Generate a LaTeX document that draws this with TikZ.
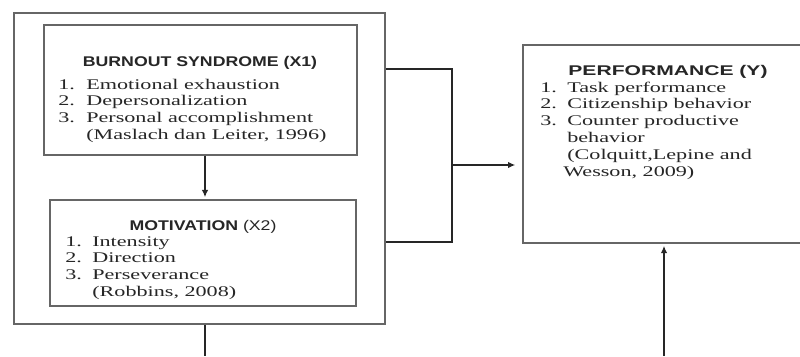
\documentclass[tikz,border=0pt]{standalone}
\usepackage{fontspec}
\usepackage{xcolor}
\usepackage{tikz}
\usetikzlibrary{arrows.meta,positioning}
\newfontfamily\itemfont[FakeStretch=1.5]{Liberation Serif}
\newfontfamily\headfont[FakeStretch=1.26]{Liberation Sans}
\newfontfamily\headwide[FakeStretch=1.5]{Liberation Sans}

\begin{document}
\begin{tikzpicture}[
  x=0.025cm, y=-0.025cm,
  every node/.style={text=black!85},
  box/.style={draw=black!60, line width=1pt, fill=white, inner sep=0pt},
  head/.style={anchor=base, inner sep=0pt, font=\headfont\fontsize{10}{12}\selectfont},
  items/.style={anchor=base west, inner sep=0pt, align=left,
                font=\itemfont\fontsize{10.5}{12.05}\selectfont},
  line/.style={draw=black!85, line width=0.9pt},
  arrow/.style={line, -{Latex[length=1.8mm,width=1.6mm]}},
]
\useasboundingbox (0,0) rectangle (800,356);
\clip (0,0) rectangle (800,356);
% boxes
\node[box, minimum width=9.275cm, minimum height=7.775cm] (outer) at (199.5,168.5) {};
\node[box, minimum width=7.825cm, minimum height=3.25cm] (burn) at (200.5,90) {};
\node[box, minimum width=7.65cm, minimum height=2.65cm] (motiv) at (203,253) {};
\node[box, minimum width=7cm, minimum height=4.95cm] (perf) at (663,144) {};
% burnout syndrome
\node[head] (burn-title) at (200,66) {\bfseries BURNOUT SYNDROME (X1)};
\node[items] (burn-list) at (58,89)
  {\begin{tabular}[t]{@{}p{0.7cm}@{}l@{}}
   1. & Emotional exhaustion\\
   2. & Depersonalization\\
   3. & Personal accomplishment\\
      & (Maslach dan Leiter, 1996)
   \end{tabular}};
% motivation
\node[head] (motiv-title) at (203,230) {\bfseries MOTIVATION \mdseries(X2)};
\node[items] (motiv-list) at (65,246)
  {\begin{tabular}[t]{@{}p{0.675cm}@{}l@{}}
   1. & Intensity\\
   2. & Direction\\
   3. & Perseverance\\
      & (Robbins, 2008)
   \end{tabular}};
% performance
\node[head, font=\headwide\fontsize{10}{12}\selectfont] (perf-title) at (668,75)
  {\bfseries PERFORMANCE (Y)};
\node[items] (perf-list) at (540,92)
  {\begin{tabular}[t]{@{}p{0.675cm}@{}l@{}}
   1. & Task performance\\
   2. & Citizenship behavior\\
   3. & Counter productive\\
      & behavior\\
      & (Colquitt,Lepine and\\
      & \hspace{-1mm}Wesson, 2009)
   \end{tabular}};
% connectors
\coordinate (brtop) at (452,69);
\coordinate (brbot) at (452,242);
\coordinate (join) at (452,165);
\coordinate (outx) at (205,356);
\coordinate (inx) at (664,356);
\draw[arrow] (outx |- burn.south) -- ([yshift=1.5pt]outx |- motiv.north);
\draw[line] (outer.east |- brtop) -- (brtop) -- (brbot) -- (outer.east |- brbot);
\draw[arrow, shorten >=5pt] (join) -- (join -| perf.west);
\draw[line] (outx |- outer.south) -- (outx);
\draw[arrow, shorten >=1.5pt] (inx) -- (inx |- perf.south);
\end{tikzpicture}
\end{document}
